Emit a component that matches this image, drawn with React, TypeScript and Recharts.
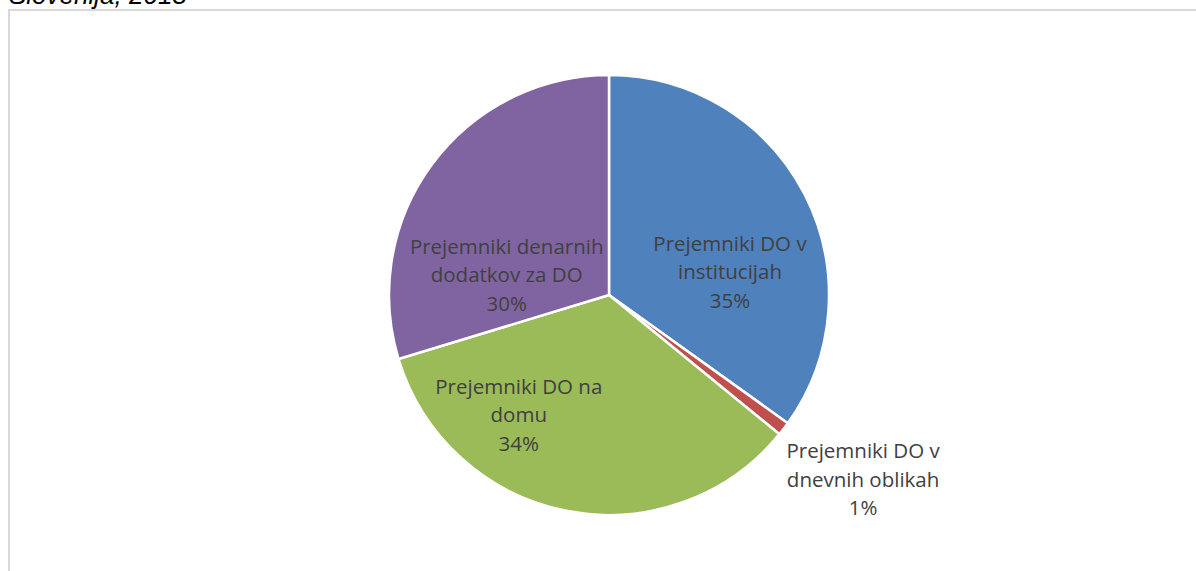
import React from "react";
import { PieChart, Pie, Cell } from "recharts";

const categories = [
  "Prejemniki DO v institucijah",
  "Prejemniki DO v dnevnih oblikah",
  "Prejemniki DO na domu",
  "Prejemniki denarnih dodatkov za DO",
];
const values = [34.9, 1.0, 34.4, 29.7];
const labelLines = [
  ["Prejemniki DO v", "institucijah"],
  ["Prejemniki DO v", "dnevnih oblikah"],
  ["Prejemniki DO na", "domu"],
  ["Prejemniki denarnih", "dodatkov za DO"],
];
const colors = ["#4f81bd", "#c0504d", "#9bbb59", "#8064a2"];
const titleText = "Slovenija, 2013";

// label anchor offsets, as fractions of the outer radius (layout only)
const labelAnchors = [
  [0.55, -0.105],
  [1.155, 0.84],
  [-0.41, 0.545],
  [-0.465, -0.09],
];

const data = categories.map((name, i) => ({ name, value: values[i] }));

const renderLabel = (props: any) => {
  const { cx, cy, outerRadius, index, percent } = props;
  const [fx, fy] = labelAnchors[index];
  const x = cx + outerRadius * fx;
  const y = cy + outerRadius * fy;
  const lines = [...labelLines[index], `${Math.round(percent * 100)}%`];
  const lh = 28.5;
  return (
    <text
      x={x}
      y={y}
      textAnchor="middle"
      fill="#404040"
      fontFamily="'Open Sans', sans-serif"
      fontSize={20.5}
    >
      {lines.map((t, k) => (
        <tspan key={k} x={x} y={y + (k - 1) * lh} dy="0.35em">
          {t}
        </tspan>
      ))}
    </text>
  );
};

export default function App() {
  return (
    <div
      style={{
        position: "absolute",
        left: 0,
        top: 0,
        width: 1196,
        height: 571,
        overflow: "hidden",
        background: "#fff",
      }}
    >
      <div
        style={{
          position: "absolute",
          left: 8,
          top: 9,
          width: 1300,
          height: 700,
          borderTop: "2px solid #d9d9d9",
          borderLeft: "2px solid #d9d9d9",
        }}
      />
      <div
        style={{
          position: "absolute",
          left: 9,
          top: -18,
          fontFamily: "'Liberation Sans', Arial, sans-serif",
          fontStyle: "italic",
          fontSize: 26,
          lineHeight: "26px",
          color: "#000",
          whiteSpace: "nowrap",
        }}
      >
        {titleText}
      </div>
      <div style={{ position: "absolute", left: 0, top: 0 }}>
        <PieChart width={1196} height={571} margin={{ top: 0, right: 0, bottom: 0, left: 0 }}>
          <Pie
            data={data}
            dataKey="value"
            nameKey="name"
            cx={609}
            cy={295}
            outerRadius={220}
            startAngle={90}
            endAngle={-270}
            stroke="#ffffff"
            strokeWidth={2.5}
            label={renderLabel}
            labelLine={false}
            isAnimationActive={false}
          >
            {data.map((d, i) => (
              <Cell key={d.name} fill={colors[i]} />
            ))}
          </Pie>
        </PieChart>
      </div>
    </div>
  );
}
